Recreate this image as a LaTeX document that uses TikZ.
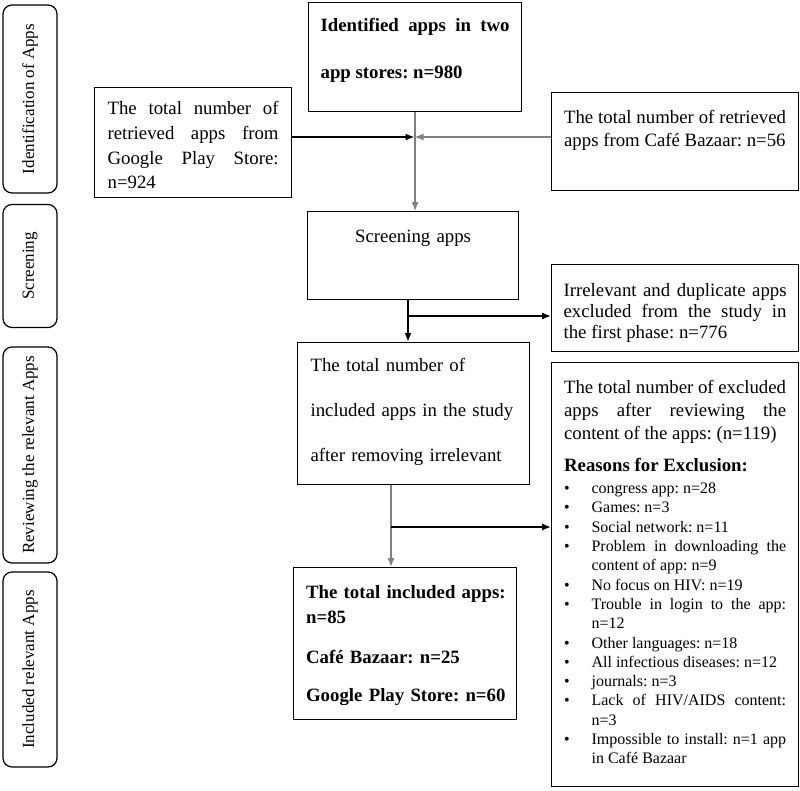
\documentclass[tikz,border=0pt]{standalone}
\usepackage{fontspec}
\setmainfont{Liberation Serif}
\usetikzlibrary{arrows.meta}
\frenchspacing

\newcommand{\reason}[1]{\par\noindent\hangindent=27.5pt\hangafter=1\makebox[27.5pt][l]{\textbullet}#1}

\begin{document}
\begin{tikzpicture}[x=1pt,y=-1pt,>={Latex[length=9pt,width=7pt]},
  box/.style={draw,line width=1.2pt,anchor=north west,inner ysep=0pt,align=justify},
  side/.style={draw,line width=1.2pt,rounded corners=9pt,rotate=90,minimum height=54pt,inner sep=0pt,font=\fontsize{17}{20}\selectfont},
  link/.style={->,line width=1.3pt},
  greylink/.style={->,line width=1.3pt,gray}]
\useasboundingbox (0,0) rectangle (800,790);

 \node[side,minimum width=188pt] (sideid) at (30,99) {Identification of Apps};
 \node[side,minimum width=123pt] (sidescr) at (30,266) {Screening};
 \node[side,minimum width=216pt] (siderev) at (30,455) {Reviewing the relevant Apps};
 \node[side,minimum width=195pt] (sideinc) at (30,669.5) {Included relevant Apps};

 \node[box,text width=189pt,inner xsep=12pt,text height=29pt,text depth=80pt,font={\fontsize{18.8}{47}\selectfont\bfseries}] (idbox) at (308,2) {Identified apps in two\linebreak app stores: n=980};
 \node[box,text width=171pt,inner xsep=13pt,text height=27pt,text depth=83pt,font={\fontsize{18.8}{24.7}\selectfont}] (gpbox) at (94,87) {The total number of\linebreak retrieved apps from\linebreak Google Play Store:\linebreak n=924};
 \node[box,text width=222pt,inner xsep=12.5pt,text height=31pt,text depth=67pt,font={\fontsize{18.8}{23}\selectfont}] (cbbox) at (551,92) {The total number of retrieved\linebreak apps from Café Bazaar: n=56};
 \node[box,align=center,text width=187pt,inner xsep=12pt,text height=31pt,text depth=57pt,font={\fontsize{18.8}{23}\selectfont}] (scbox) at (307,211) {Screening apps};
 \node[box,text width=223pt,inner xsep=12pt,text height=32pt,text depth=55pt,font={\fontsize{18.8}{21}\selectfont}] (irbox) at (551,264) {Irrelevant and duplicate apps\linebreak excluded from the study in\linebreak the first phase: n=776};
 \node[box,align=left,text width=206pt,inner xsep=13pt,text height=29pt,text depth=113pt,font={\fontsize{18.8}{45}\selectfont}] (mdbox) at (297,342) {The total number of\\ included apps in the study\\ after removing irrelevant};
 \node[box,align=left,text width=198pt,inner xsep=12.5pt,text height=31pt,text depth=121pt,font={\fontsize{18.8}{25}\selectfont\bfseries}] (inbox) at (293,567) {\mbox{The total included apps:}\\ n=85\\[15pt] \mbox{Café Bazaar: n=25}\\[13pt] \mbox{Google Play Store: n=60}};
 \node[box,text width=222pt,inner xsep=12.5pt,text height=31pt,text depth=393pt,font={\fontsize{18.8}{23}\selectfont}] (exbox) at (551,362) {The total number of excluded\linebreak apps after reviewing the\linebreak content of the apps: (n=119)\par
  \vspace{9pt}{\bfseries Reasons for Exclusion:}\par
  \vspace{2.7pt}\fontsize{16}{19.3}\selectfont
  \reason{congress app: n=28}
  \reason{Games: n=3}
  \reason{Social network: n=11}
  \reason{Problem in downloading the\linebreak content of app: n=9}
  \reason{No focus on HIV: n=19}
  \reason{Trouble in login to the app:\linebreak n=12}
  \reason{Other languages: n=18}
  \reason{All infectious diseases: n=12}
  \reason{journals: n=3}
  \reason{Lack of HIV/AIDS content:\linebreak n=3}
  \reason{Impossible to install: n=1 app\linebreak in Café Bazaar}\par};

 \coordinate (meet) at (414.5,137);
 \draw[link] (gpbox.east |- meet) -- (meet);
 \draw[greylink] (cbbox.west |- meet) -- (meet);
 \draw[greylink] (idbox.south) -- (idbox.south |- scbox.north);

 \coordinate (splitone) at (408,316);
 \draw[link,line width=2pt] (splitone |- scbox.south) -- (splitone |- mdbox.north);
 \draw[link] (splitone) -- (splitone -| irbox.west);

 \coordinate (splittwo) at (391,527);
 \draw[greylink] (splittwo |- mdbox.south) -- (splittwo |- inbox.north);
 \draw[link] (splittwo) -- (splittwo -| exbox.west);
\end{tikzpicture}
\end{document}
